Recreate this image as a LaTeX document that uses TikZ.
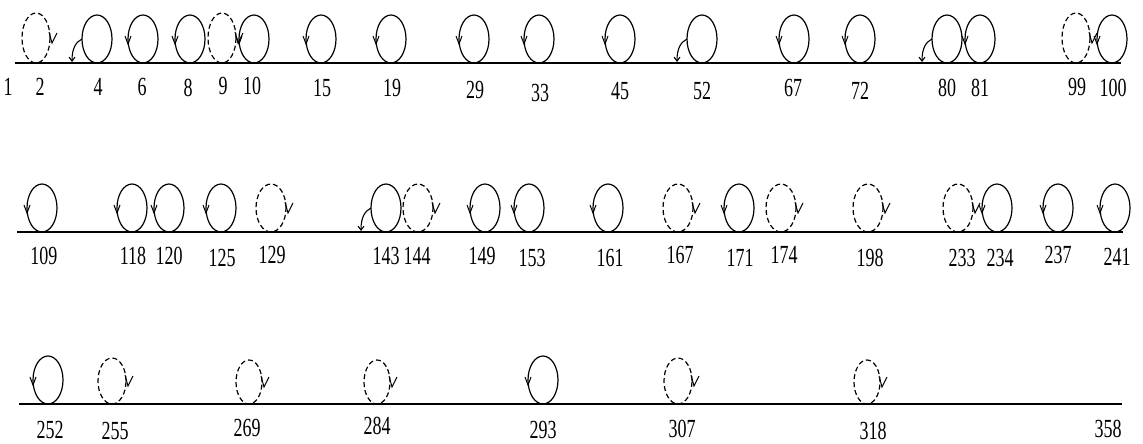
\documentclass[tikz,border=0pt]{standalone}
\usepackage{fontspec}
\setmainfont{Liberation Serif}
\usetikzlibrary{arrows.meta}
\newcommand\tallnum[1]{\scalebox{1}[1.45]{#1}}
\tikzset{
  baseline/.style={line width=1.9pt},
  loopline/.style={line width=1.2pt},
  dashloop/.style={line width=1.2pt, dash pattern=on 5pt off 3pt},
  tipline/.style={line width=1pt, line join=miter},
  curlarrow/.style={line width=1.1pt, -{Straight Barb[length=4pt,width=6pt]}},
  lab/.style={font=\fontsize{18}{18}\selectfont, inner sep=0pt},
}
% solid loop with arrow on the left side
\newcommand\mySloop[2]{%
  \draw[loopline] (#1,#2-24) ellipse (15pt and 24pt);
  \draw[tipline] (#1-18,#2-27) -- (#1-15,#2-19) -- (#1-12,#2-27);}
% solid loop with a curl arrow to the line
\newcommand\myCloop[2]{%
  \draw[loopline] (#1,#2-24) ellipse (15pt and 24pt);
  \draw[curlarrow] (#1-15,#2-24) .. controls (#1-21,#2-21) and (#1-25,#2-15) .. (#1-25,#2-1);}
% dashed loop with arrow on the right side
\newcommand\myDloop[4]{%
  \draw[dashloop] (#1,#2-#4) ellipse (#3pt and #4pt);
  \draw[tipline] (#1+#3-1,#2-#4-6) -- (#1+#3+2,#2-#4+5) -- (#1+#3+7,#2-#4-5);}
\begin{document}
\begin{tikzpicture}[x=1pt,y=-1pt]
\useasboundingbox (0,0) rectangle (1143,444);
% base lines
\coordinate (r1s) at (15,63);  \coordinate (r1e) at (1121,63);
\coordinate (r2s) at (17,232); \coordinate (r2e) at (1123,232);
\coordinate (r3s) at (19,404); \coordinate (r3e) at (1122,404);
\draw[baseline] (r1s) -- (r1e);
\draw[baseline] (r2s) -- (r2e);
\draw[baseline] (r3s) -- (r3e);
% row 1
\foreach \c in {143,190,254,321,391,474,539,620,794,860,980,1112} {\mySloop{\c}{63}}
\foreach \c in {97,702,947} {\myCloop{\c}{63}}
\foreach \c in {36,222,1076} {\myDloop{\c}{63}{14}{25}}
% row 2
\foreach \c in {42,132,169,221,485,529,608,739,997,1058,1115} {\mySloop{\c}{232}}
\foreach \c in {386} {\myCloop{\c}{232}}
\foreach \c in {271,418,678,781,868,958} {\myDloop{\c}{232}{15}{24}}
% row 3
\foreach \c in {48,543} {\mySloop{\c}{404}}
\foreach \c in {112,678} {\myDloop{\c}{404}{14}{23}}
\foreach \c in {249,377,867} {\myDloop{\c}{404}{13}{22}}
% labels
\foreach \x/\y/\t in {8/87/1, 40/87/2, 98/87/4, 142/87/6, 188/88/8, 223/86/9, 252/86/10,
  322/88/15, 392/88/19, 475/90/29, 540/93/33, 620/91/45, 702/91/52, 793/88/67, 860/91/72,
  947/88/80, 980/88/81, 1077/87/99, 1113/88/100,
  44/256/109, 133/256/118, 169/256/120, 222/258/125, 272/255/129, 386/256/143, 417/256/144,
  482/256/149, 532/258/153, 610/258/161, 680/255/167, 740/258/171, 784/255/174, 870/258/198,
  962/258/233, 1000/258/234, 1058/255/237, 1117/257/241,
  50/430/252, 115/431/255, 247/428/269, 377/426/284, 543/430/293, 682/429/307, 873/431/318,
  1108/429/358}
  {\node[lab] (n\t) at (\x,\y) {\tallnum{\t}};}
\end{tikzpicture}
\end{document}
